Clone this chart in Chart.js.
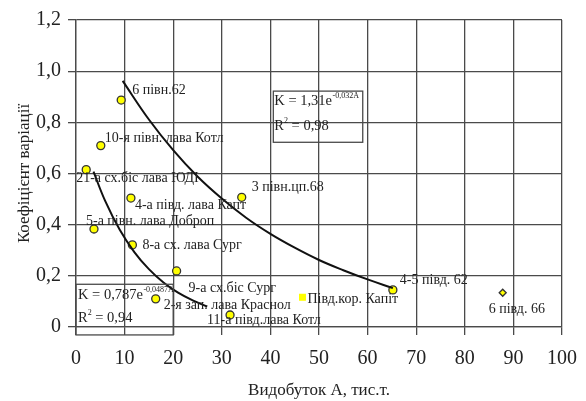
<!DOCTYPE html>
<html>
<head>
<meta charset="utf-8">
<script src="https://cdn.jsdelivr.net/npm/chart.js"></script>
<style>
  html, body { margin: 0; padding: 0; background: #fff; }
  #wrap { width: 586px; height: 401px; }
</style>
</head>
<body>
<div id="wrap"><canvas id="chart" width="586" height="401"></canvas></div>
<script>
// Лави: видобуток A (тис.т.) та коефіцієнт варіації K
const names = ['6 півн.62', '10-я півн. лава Котл', '21-а сх.біс лава ЮДІ', '4-а півд. лава Капт',
  '3 півн.цп.68', '5-а півн. лава Доброп', '8-а сх. лава Сург', '9-а сх.біс Сург',
  '2-я зап. лава Краснол', '11-а півд.лава Котл', 'Півд.кор. Капіт', '4-5 півд. 62', '6 півд. 66'];
const prodA = [9.3, 5.1, 2.1, 11.3, 34.1, 3.7, 11.6, 20.7, 16.4, 31.7, 46.6, 65.2, 87.8];
const coefK = [0.887, 0.709, 0.615, 0.504, 0.507, 0.383, 0.321, 0.219, 0.110, 0.047, 0.116, 0.145, 0.134];

// лінії тренду
const upperX = [9.6, 15, 20, 25, 30, 35, 40, 45, 50, 55, 60, 65.2];
const upperY = [0.962, 0.811, 0.691, 0.588, 0.502, 0.427, 0.364, 0.31, 0.262, 0.222, 0.186, 0.152];
const lowerX = [3.6, 6, 9, 12, 15, 18, 21, 24, 27];
const lowerY = [0.607, 0.493, 0.38, 0.293, 0.226, 0.174, 0.134, 0.104, 0.08];

const xTicks = [0, 10, 20, 30, 40, 50, 60, 70, 80, 90, 100];
const yTicks = [0, 0.2, 0.4, 0.6, 0.8, 1.0, 1.2];

// зміщення підписів точок (px від точки до початку тексту)
const labelOffsets = [[11, -10], [4, -7], [-10, 9], [4, 7], [10, -10], [-8, -8], [10, 0],
  [12, 17], [8, 6], [-23, 5], [5, 2], [7, -10], [-14, 17]];

const serif = "'Liberation Serif', 'DejaVu Serif', serif";
const gridColor = '#4a4a4a';

const points = prodA.map((a, i) => ({ x: a, y: coefK[i] }));
const upper = upperX.map((x, i) => ({ x, y: upperY[i] }));
const lower = lowerX.map((x, i) => ({ x, y: lowerY[i] }));

function styleFor(i) {
  if (names[i] === 'Півд.кор. Капіт') return 'rect';
  if (names[i] === '6 півд. 66') return 'rectRot';
  return 'circle';
}

const annotations = {
  id: 'annotations',
  afterDatasetsDraw(chart) {
    const { ctx, scales: { x, y } } = chart;
    const meta = chart.getDatasetMeta(2);
    ctx.save();
    ctx.fillStyle = '#222';
    ctx.font = '14px ' + serif;
    ctx.textBaseline = 'middle';
    ctx.textAlign = 'left';
    meta.data.forEach((pt, i) => {
      const [dx, dy] = labelOffsets[i];
      ctx.fillText(names[i], pt.x + dx, pt.y + dy);
    });

    // рамки з рівняннями
    ctx.strokeStyle = gridColor;
    ctx.lineWidth = 1.3;
    const box = (x0, x1, y0, y1) => {
      const l = x.getPixelForValue(x0), r = x.getPixelForValue(x1);
      const t = y.getPixelForValue(y0), b = y.getPixelForValue(y1);
      ctx.strokeRect(l, t, r - l, b - t);
      return { l, t, r, b };
    };
    const eq = (l, yy, base, sup) => {
      ctx.font = '14.5px ' + serif;
      ctx.fillText(base, l, yy);
      const w = ctx.measureText(base).width;
      ctx.font = '8px ' + serif;
      ctx.fillText(sup, l + w + 0.5, yy - 5);
    };
    const r2 = (l, yy, val) => {
      ctx.font = '14.5px ' + serif;
      ctx.fillText('R', l, yy);
      const w = ctx.measureText('R').width;
      ctx.font = '8px ' + serif;
      ctx.fillText('2', l + w, yy - 5);
      ctx.font = '14.5px ' + serif;
      ctx.fillText(' = ' + val, l + w + 4, yy);
    };
    const b1 = box(40.6, 59.0, 0.922, 0.722);
    eq(b1.l + 1, b1.t + 10, 'K = 1,31e', '-0,032A');
    r2(b1.l + 1, b1.t + 35, '0,98');
    const b2 = box(0, 20, 0.167, -0.031);
    eq(b2.l + 2, b2.t + 11, 'K = 0,787e', '-0,0487A');
    r2(b2.l + 2, b2.t + 34, '0,94');
    ctx.restore();
  }
};

new Chart(document.getElementById('chart'), {
  type: 'scatter',
  data: {
    datasets: [
      {
        data: upper, showLine: true, borderColor: '#111', borderWidth: 2,
        pointRadius: 0, tension: 0.4, fill: false
      },
      {
        data: lower, showLine: true, borderColor: '#111', borderWidth: 2,
        pointRadius: 0, tension: 0.4, fill: false
      },
      {
        data: points,
        pointStyle: ctx => styleFor(ctx.dataIndex),
        pointRadius: ctx => styleFor(ctx.dataIndex) === 'rectRot' ? 3.5 : 4,
        backgroundColor: '#ffff00',
        borderColor: ctx => styleFor(ctx.dataIndex) === 'rect' ? '#ffff00' : '#333',
        borderWidth: 1.3
      }
    ]
  },
  options: {
    responsive: false,
    animation: false,
    layout: { padding: { top: 20, right: 24, left: 0, bottom: 0 } },
    plugins: { legend: { display: false }, tooltip: { enabled: false } },
    scales: {
      x: {
        type: 'linear', min: 0, max: 100,
        afterBuildTicks: s => { s.ticks = xTicks.map(v => ({ value: v })); },
        afterFit: s => { s.height = 74; s.paddingRight = 0; s.paddingLeft = 0; },
        grid: { color: gridColor, lineWidth: 1.3, tickLength: 8, drawTicks: true },
        border: { color: gridColor, width: 1.3 },
        ticks: { color: '#222', font: { family: serif, size: 20 }, padding: 12, maxRotation: 0 },
        title: { display: true, text: 'Видобуток А, тис.т.', color: '#222',
          font: { family: serif, size: 17 }, padding: { top: 4, bottom: 0 } }
      },
      y: {
        type: 'linear', min: 0, max: 1.2,
        afterBuildTicks: s => { s.ticks = yTicks.map(v => ({ value: v })); },
        afterFit: s => { s.width = 76; },
        grid: { color: gridColor, lineWidth: 1.3, tickLength: 8, drawTicks: true },
        border: { color: gridColor, width: 1.3 },
        ticks: { color: '#222', font: { family: serif, size: 20 }, padding: 7,
          callback: v => v === 0 ? '0' : v.toFixed(1).replace('.', ',') },
        title: { display: true, text: 'Коефіцієнт варіації', color: '#222',
          font: { family: serif, size: 17 }, padding: { top: 14, bottom: 0 } }
      }
    }
  },
  plugins: [annotations]
});
</script>
</body>
</html>
